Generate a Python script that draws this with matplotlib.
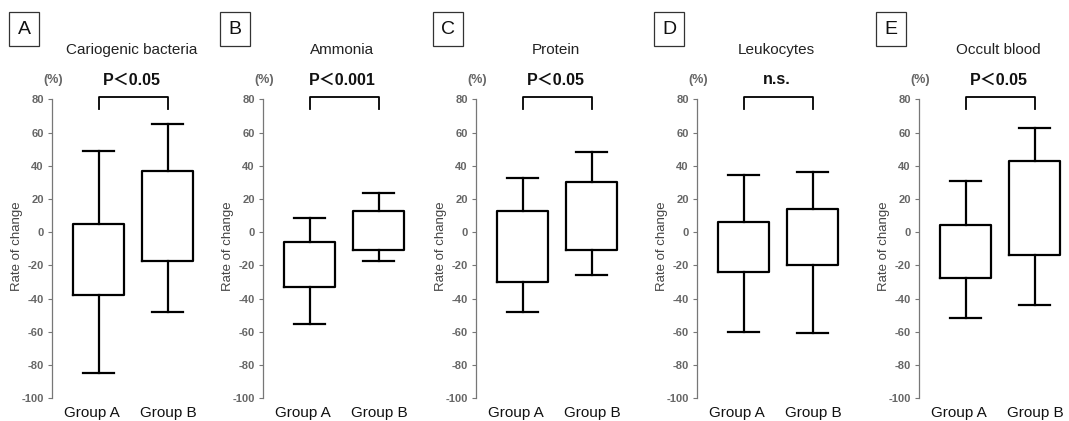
import matplotlib.pyplot as plt
import matplotlib.transforms as mtransforms

# Rate of change (%) per panel: whisker low, Q1, Q3, whisker high
panels = ['A', 'B', 'C', 'D', 'E']
titles = ['Cariogenic bacteria', 'Ammonia', 'Protein', 'Leukocytes', 'Occult blood']
pvals = ['P\uff1c0.05', 'P\uff1c0.001', 'P\uff1c0.05', 'n.s.', 'P\uff1c0.05']
groups = ['Group A', 'Group B']

group_a = [
    [-84.6, -37.8, 4.7, 48.9],
    [-55.0, -33.0, -6.0, 8.5],
    [-48.0, -30.0, 12.5, 32.5],
    [-60.0, -24.0, 6.0, 34.5],
    [-51.5, -27.5, 4.5, 31.0],
]
group_b = [
    [-48.2, -17.2, 36.8, 65.0],
    [-17.5, -11.0, 12.5, 23.5],
    [-26.0, -10.5, 30.0, 48.5],
    [-60.5, -20.0, 14.0, 36.5],
    [-44.0, -14.0, 43.0, 62.5],
]

yticks = list(range(-100, 81, 20))

plt.rcParams['font.family'] = ['Liberation Sans', 'Noto Sans CJK JP', 'DejaVu Sans']

W, H = 1069, 421
fig = plt.figure(figsize=(W / 100, H / 100), dpi=100)

spine_px = [52, 263, 476, 697, 919]
xmin, xmax = 0.32, 2.5
unit_px = 69
ax_bottom = (H - 398.3) / H
ax_height = (398.3 - 99.3) / H

for i in range(5):
    left = spine_px[i] / W
    width = (xmax - xmin) * unit_px / W
    ax = fig.add_axes([left, ax_bottom, width, ax_height])

    stats = []
    for vals in (group_a[i], group_b[i]):
        lo, q1, q3, hi = vals
        stats.append(dict(whislo=lo, q1=q1, med=q1, q3=q3, whishi=hi, fliers=[]))
    ax.bxp(stats, positions=[1, 2], widths=0.74, capwidths=0.45,
           showfliers=False,
           boxprops=dict(color='black', linewidth=1.6),
           whiskerprops=dict(color='black', linewidth=1.6),
           capprops=dict(color='black', linewidth=1.6),
           medianprops=dict(linewidth=0))

    ax.set_xlim(xmin, xmax)
    ax.set_ylim(-100, 80)
    ax.set_yticks(yticks)
    ax.set_yticklabels([str(t) for t in yticks], fontsize=8, fontweight='bold', color='#666666')
    ax.set_xticks([1, 2])
    ax.set_xticklabels(groups, fontsize=11, color='#111111')
    ax.tick_params(axis='x', length=0, pad=5.5)
    ax.tick_params(axis='y', length=3, width=0.8, color='#777777', pad=3)
    # Group A label sits a little left of its box
    lab = ax.get_xticklabels()[0]
    lab.set_transform(lab.get_transform() + mtransforms.ScaledTranslation(-0.07, 0, fig.dpi_scale_trans))
    for s in ['top', 'right', 'bottom']:
        ax.spines[s].set_visible(False)
    ax.spines['left'].set_color('#777777')
    ax.spines['left'].set_linewidth(0.9)
    ax.set_ylabel('Rate of change', fontsize=9.5, color='#444444')
    ax.yaxis.set_label_coords(-0.19, 0.51)

    # significance bracket
    ax.plot([1, 1, 2, 2], [74, 81.5, 81.5, 74], color='black', linewidth=1.3, clip_on=False)

    cx = (spine_px[i] + 47 + 0.5 * unit_px) / W
    fig.text(cx - 2 / W, 1 - 50 / H, titles[i], ha='center', va='center', fontsize=11, color='#222222')
    fig.text(cx - 2 / W, 1 - 80 / H, pvals[i], ha='center', va='center', fontsize=11.5,
             fontweight='bold', color='#111111')
    fig.text((spine_px[i] + 1) / W, 1 - 80 / H, '(%)', ha='center', va='center',
             fontsize=9, fontweight='bold', color='#666666')
    fig.text((spine_px[i] - 28) / W, 1 - 29 / H, panels[i], ha='center', va='center',
             fontsize=14, color='#111111',
             bbox=dict(boxstyle='square,pad=0.42', facecolor='white', edgecolor='#333333', linewidth=0.9))

fig.savefig('out.png', dpi=100)
